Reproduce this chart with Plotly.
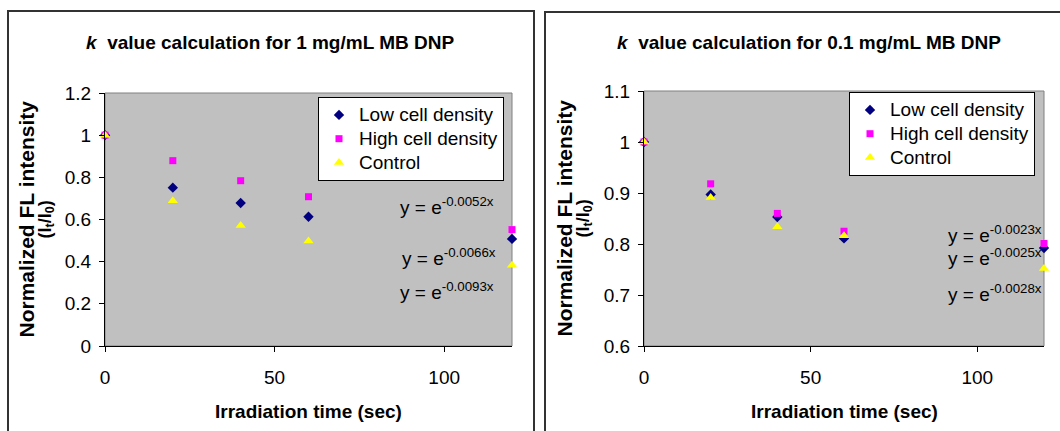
import plotly.graph_objects as go

W, H = 1060, 431

# ---------------- data ----------------
time_sec = [0, 20, 40, 60, 120]

left_low = [1.0, 0.751, 0.678, 0.613, 0.508]
left_high = [1.0, 0.879, 0.784, 0.708, 0.552]
left_ctrl = [1.0, 0.689, 0.572, 0.498, 0.383]

right_low = [1.0, 0.897, 0.853, 0.811, 0.792]
right_high = [1.0, 0.918, 0.860, 0.825, 0.801]
right_ctrl = [1.0, 0.891, 0.834, 0.816, 0.752]

series_names = ["Low cell density", "High cell density", "Control"]
left_eqs = ["-0.0052x", "-0.0066x", "-0.0093x"]
right_eqs = ["-0.0023x", "-0.0025x", "-0.0028x"]
titles = ["1 mg/mL MB DNP", "0.1 mg/mL MB DNP"]
left_ticks = [0, 0.2, 0.4, 0.6, 0.8, 1.0, 1.2]
right_ticks = [0.6, 0.7, 0.8, 0.9, 1.0, 1.1]
x_ticks = [0, 50, 100]

FONT = "Liberation Sans, Arial, sans-serif"
FS = 19


def px(x):
    return x / W


def py(y):
    return 1 - y / H


def legend_label(name):
    return "<span style='font-size:19px'>" + name + "</span>"


styles = [
    dict(symbol="diamond", color="#000080", size=8),
    dict(symbol="square", color="#FF00FF", size=7),
    dict(symbol="triangle-up", color="#FFFF00", size=9),
]

fig = go.Figure()

for i, (vals, st) in enumerate(zip([left_low, left_high, left_ctrl], styles)):
    fig.add_trace(go.Scatter(
        x=time_sec, y=vals, mode="markers", name=legend_label(series_names[i]),
        marker=dict(symbol=st["symbol"], color=st["color"], size=st["size"], line=dict(width=0)),
        xaxis="x", yaxis="y", legend="legend", cliponaxis=False))

for i, (vals, st) in enumerate(zip([right_low, right_high, right_ctrl], styles)):
    fig.add_trace(go.Scatter(
        x=time_sec, y=vals, mode="markers", name=legend_label(series_names[i]),
        marker=dict(symbol=st["symbol"], color=st["color"], size=st["size"], line=dict(width=0)),
        xaxis="x2", yaxis="y2", legend="legend2", cliponaxis=False))

axis_common = dict(showline=True, linecolor="black", linewidth=1, ticks="outside",
                   ticklen=5, tickcolor="black", showgrid=False, zeroline=False,
                   automargin=False,
                   tickfont=dict(family=FONT, size=FS, color="black"))

L_plot = (105, 512, 93, 346)
R_plot = (644, 1044, 91, 346)

fig.update_layout(
    template="none",
    width=W, height=H,
    margin=dict(l=0, r=0, t=0, b=0, pad=0, autoexpand=False),
    paper_bgcolor="white",
    plot_bgcolor="#C0C0C0",
    font=dict(family=FONT, size=FS, color="black"),
    xaxis=dict(domain=[px(L_plot[0]), px(L_plot[1])], range=[0, 120], tickvals=x_ticks,
               anchor="y", ticklabelstandoff=9, **axis_common),
    yaxis=dict(domain=[py(L_plot[3]), py(L_plot[2])], range=[0, 1.2], tickvals=left_ticks,
               anchor="x", ticklabelstandoff=4, **axis_common),
    xaxis2=dict(domain=[px(R_plot[0]), px(R_plot[1])], range=[0, 120], tickvals=x_ticks,
                anchor="y2", ticklabelstandoff=9, **axis_common),
    yaxis2=dict(domain=[py(R_plot[3]), py(R_plot[2])], range=[0.6, 1.1], tickvals=right_ticks,
                anchor="x2", ticklabelstandoff=4, **axis_common),
    legend=dict(x=px(318), y=py(97), xanchor="left", yanchor="top",
                bgcolor="white", bordercolor="black", borderwidth=1,
                font=dict(family=FONT, size=16, color="black"), tracegroupgap=0),
    legend2=dict(x=px(849), y=py(92), xanchor="left", yanchor="top",
                 bgcolor="white", bordercolor="black", borderwidth=1,
                 font=dict(family=FONT, size=16, color="black"), tracegroupgap=0),
    showlegend=True,
)

shapes = [
    # outer chart boxes
    dict(type="rect", xref="paper", yref="paper", x0=px(8), x1=px(534), y0=py(440), y1=py(11),
         line=dict(color="#333333", width=2), fillcolor="rgba(0,0,0,0)", layer="below"),
    dict(type="rect", xref="paper", yref="paper", x0=px(545), x1=px(1070), y0=py(440), y1=py(12),
         line=dict(color="#333333", width=2), fillcolor="rgba(0,0,0,0)", layer="below"),
    # plot area gray borders
    dict(type="rect", xref="x domain", yref="y domain", x0=0, x1=1, y0=0, y1=1,
         line=dict(color="#808080", width=1), layer="below"),
    dict(type="rect", xref="x2 domain", yref="y2 domain", x0=0, x1=1, y0=0, y1=1,
         line=dict(color="#808080", width=1), layer="below"),
]

annotations = []
# chart titles
for title, cx in zip(titles, [269.5, 809]):
    annotations.append(dict(text="<b><i>k</i>  value calculation for " + title + "</b>",
                            x=px(cx), y=py(42), xref="paper", yref="paper",
                            xanchor="center", yanchor="middle", showarrow=False,
                            font=dict(family=FONT, size=FS, color="black")))
# x-axis titles
for cx in [(L_plot[0] + L_plot[1]) / 2, (R_plot[0] + R_plot[1]) / 2]:
    annotations.append(dict(text="<b>Irradiation time (sec)</b>", x=px(cx), y=py(411),
                            xref="paper", yref="paper", xanchor="center", yanchor="middle",
                            showarrow=False, font=dict(family=FONT, size=FS, color="black")))
# y-axis titles
for x1, x2, cy in [(26, 46, 219.5), (564, 584, 218.5)]:
    annotations.append(dict(text="<b>Normalized FL intensity</b>", x=px(x1), y=py(cy),
                            xref="paper", yref="paper", xanchor="center", yanchor="middle",
                            textangle=-90, showarrow=False,
                            font=dict(family=FONT, size=21, color="black")))
    annotations.append(dict(text="<b>(I<sub>t</sub>/I<sub>0</sub>)</b>", x=px(x2), y=py(cy),
                            xref="paper", yref="paper", xanchor="center", yanchor="middle",
                            textangle=-90, showarrow=False,
                            font=dict(family=FONT, size=18, color="black")))
# fitted equations
for eq, (ex, ey) in zip(left_eqs, [(398, 206), (400, 257), (398, 291)]):
    annotations.append(dict(text="y = e<sup>" + eq + "</sup>", x=px(ex), y=py(ey),
                            xref="paper", yref="paper", xanchor="left", yanchor="middle",
                            showarrow=False, font=dict(family=FONT, size=19, color="black")))
for eq, (ex, ey) in zip(right_eqs, [(946, 234), (946, 257), (946, 293)]):
    annotations.append(dict(text="y = e<sup>" + eq + "</sup>", x=px(ex), y=py(ey),
                            xref="paper", yref="paper", xanchor="left", yanchor="middle",
                            showarrow=False, font=dict(family=FONT, size=19, color="black")))

fig.update_layout(shapes=shapes, annotations=annotations)

fig.write_html("out.html")
